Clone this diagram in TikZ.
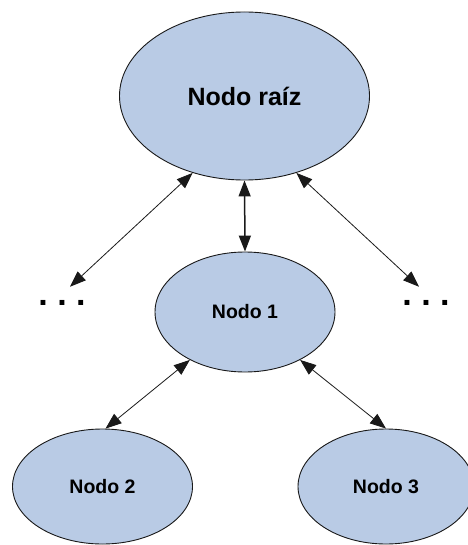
\documentclass[tikz,border=0pt]{standalone}
\usepackage{fontspec}
\setmainfont{Liberation Sans}
\usetikzlibrary{arrows.meta,shapes.geometric}
\definecolor{nod}{RGB}{185,203,229}
\definecolor{lin}{RGB}{25,25,25}

\begin{document}
\begin{tikzpicture}[x=1pt,y=-1pt,>={Triangle[length=16pt,width=12pt]},
  nodo/.style={ellipse,draw=lin,fill=nod,line width=0.9pt,inner sep=0pt,font=\bfseries\fontsize{19.5}{22}\selectfont},
  pts/.style={inner sep=0pt,anchor=base,font=\bfseries\fontsize{34}{38}\selectfont}]
  \useasboundingbox (0,0) rectangle (467,545);
  % root and first level
  \node[nodo,minimum width=250pt,minimum height=168pt,font=\bfseries\fontsize{25}{30}\selectfont] (raiz) at (244.5,96) {Nodo raíz};
  \node[nodo,minimum width=180pt,minimum height=120pt] (n1) at (245,312) {Nodo 1};
  \node[pts] (izq) at (62,305) {.\ .\ .};
  \node[pts] (der) at (426,305) {.\ .\ .};
  % second level
  \node[nodo,minimum width=180pt,minimum height=115pt] (n2) at (102.5,486.5) {Nodo 2};
  \node[nodo,minimum width=176pt,minimum height=115pt] (n3) at (386,486.5) {Nodo 3};
  % connectors
  \draw[<->,lin,line width=0.8pt] (raiz.236) -- ([xshift=8pt,yshift=13pt]izq.north);
  \draw[<->,lin,line width=0.8pt] (raiz.304) -- ([xshift=-7pt,yshift=13pt]der.north);
  \draw[<->,lin,line width=1.5pt] (raiz.south) -- (n1.north);
  \draw[<->,lin,line width=0.8pt] (n1.221) -- (n2.87);
  \draw[<->,lin,line width=0.8pt] (n1.319) -- (n3.north);
\end{tikzpicture}
\end{document}
